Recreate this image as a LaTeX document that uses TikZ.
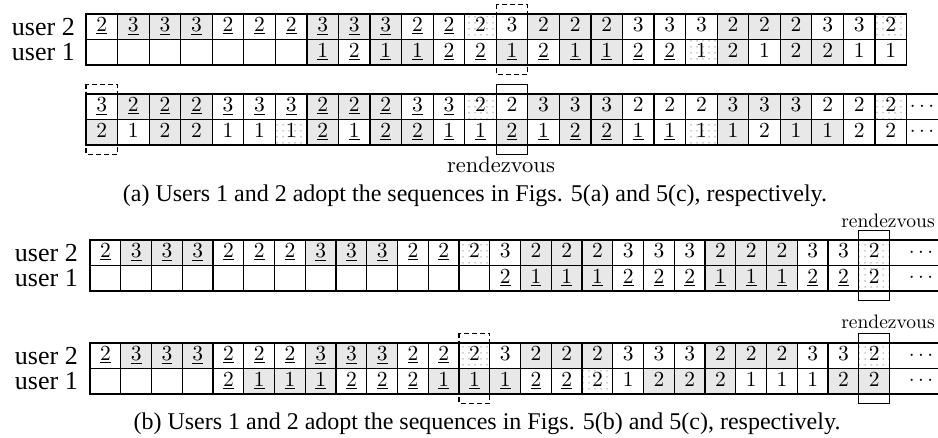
\documentclass[tikz,border=0pt]{standalone}
\usepackage{fontspec}
\newfontfamily\tnr{Liberation Serif}
\newfontfamily\lmten{lmroman10-regular.otf}
\usetikzlibrary{patterns.meta}
\newcommand\cfuw[1]{\underline{#1}}
\newcommand\cfug[1]{\underline{#1}}
\newcommand\cfw[1]{#1}
\newcommand\cfg[1]{#1}
\newcommand\cfd[1]{#1}
\newcommand\cfe[1]{}
% #1 name prefix, #2 x0, #3 y0 (top), #4 cell width, #5 list value/style
\newcommand\seqrow[5]{%
  \foreach \v/\s [count=\i] in {#5} {%
    \node[cell, cellstyle/.expanded=\s, minimum width=#4pt] (#1-\i) at ({#2+(\i-1)*#4}, #3) {\csname cf\s\endcsname{\v}};
  }%
}
\begin{document}
\begin{tikzpicture}[x=1pt, y=-1pt,
  cellline/.style={line width=1.2pt},
  cell/.style={draw, cellline, inner sep=0pt, outer sep=0pt, anchor=north west,
    minimum height=25.5pt, text height=14.5pt, text depth=4pt,
    font=\lmten\fontsize{21.5}{26}\selectfont},
  cellstyle/.style={cs#1},
  csuw/.style={fill=white},
  csw/.style={fill=white},
  csug/.style={fill=black!9},
  csg/.style={fill=black!9},
  cse/.style={fill=white},
  csd/.style={pattern={Dots[distance=6pt, radius=0.75pt, xshift=1pt, yshift=1pt]}, pattern color=black!40},
  lab/.style={font=\tnr\fontsize{26}{30}\selectfont, inner sep=0pt, anchor=east},
  captext/.style={font=\tnr\fontsize{24}{28}\selectfont, inner sep=0pt, anchor=base},
  rdv/.style={font=\lmten\fontsize{19.5}{24}\selectfont, inner sep=0pt, anchor=base},
  rdvbig/.style={font=\lmten\fontsize{22.5}{26}\selectfont, inner sep=0pt, anchor=base},
  dotcell/.style={inner sep=0pt, font=\fontsize{22}{26}\selectfont},
  markbox/.style={cellline},
  dashbox/.style={cellline, dash pattern=on 5pt off 3pt}
]
\useasboundingbox (0,0) rectangle (938,438);
\coordinate (R) at (938,0);

% ---------- (a) first table ----------
\seqrow{Aa}{86}{14}{31.56}{2/uw,3/ug,3/ug,3/ug,2/uw,2/uw,2/uw,3/ug,3/ug,3/ug,2/uw,2/uw,2/d,3/w,2/g,2/g,2/g,3/w,3/w,3/w,2/g,2/g,2/g,3/w,3/w,2/d}
\seqrow{Ab}{86}{39.5}{31.56}{x/e,x/e,x/e,x/e,x/e,x/e,x/e,1/ug,2/uw,1/ug,1/ug,2/uw,2/uw,1/ug,2/uw,1/ug,1/ug,2/uw,2/uw,1/d,2/g,1/w,2/g,2/g,1/w,1/w}
\node[lab] (LAa) at (75,26.75) {user 2};
\node[lab] (LAb) at (75,52.25) {user 1};
\draw[dashbox] ([yshift=9.5pt]Aa-14.north west) rectangle ([yshift=-9.5pt]Ab-14.south east);

% ---------- (a) second table ----------
\seqrow{Ba}{86}{94}{31.56}{3/uw,2/ug,2/ug,2/ug,3/uw,3/uw,3/uw,2/ug,2/ug,2/ug,3/uw,3/uw,2/d,2/w,3/g,3/g,3/g,2/w,2/w,2/w,3/g,3/g,3/g,2/w,2/w,2/d}
\seqrow{Bb}{86}{119.5}{31.56}{2/g,1/w,2/g,2/g,1/w,1/w,1/d,2/ug,1/uw,2/ug,2/ug,1/uw,1/uw,2/ug,1/uw,2/ug,2/ug,1/uw,1/uw,1/d,1/g,2/w,1/g,1/g,2/w,2/w}
\node[dotcell] (Ba-27) at (922,106.75) {$\cdots$};
\node[dotcell] (Bb-27) at (922,132.25) {$\cdots$};
\draw[cellline] (Ba-26.north east) -- (Ba-26.north east -| R);
\draw[cellline] (Ba-26.south east) -- (Ba-26.south east -| R);
\draw[cellline] (Bb-26.south east) -- (Bb-26.south east -| R);
\draw[dashbox] ([yshift=9.5pt]Ba-1.north west) rectangle ([yshift=-9.5pt]Bb-1.south east);
\draw[markbox] ([yshift=9.5pt]Ba-14.north west) rectangle ([yshift=-9.5pt]Bb-14.south east);
\node[rdvbig] (RA) at (501,173) {rendezvous};
\node[captext] (CA) at (475,202) {(a) Users 1 and 2 adopt the sequences in Figs. 5(a) and 5(c), respectively.};

% ---------- (b) first table ----------
\seqrow{Ca}{90}{240}{30.75}{2/uw,3/ug,3/ug,3/ug,2/uw,2/uw,2/uw,3/ug,3/ug,3/ug,2/uw,2/uw,2/d,3/w,2/g,2/g,2/g,3/w,3/w,3/w,2/g,2/g,2/g,3/w,3/w,2/d}
\seqrow{Cb}{90}{265.5}{30.75}{x/e,x/e,x/e,x/e,x/e,x/e,x/e,x/e,x/e,x/e,x/e,x/e,x/e,2/uw,1/ug,1/ug,1/ug,2/uw,2/uw,2/uw,1/ug,1/ug,1/ug,2/uw,2/uw,2/d}
\node[lab] (LCa) at (78,252.75) {user 2};
\node[lab] (LCb) at (78,278.25) {user 1};
\node[dotcell] (Ca-27) at (921,252.75) {$\cdots$};
\node[dotcell] (Cb-27) at (921,278.25) {$\cdots$};
\draw[cellline] (Ca-26.north east) -- (Ca-26.north east -| R);
\draw[cellline] (Ca-26.south east) -- (Ca-26.south east -| R);
\draw[cellline] (Cb-26.south east) -- (Cb-26.south east -| R);
\draw[markbox] ([yshift=9.5pt]Ca-26.north west) rectangle ([yshift=-9.5pt]Cb-26.south east);
\node[rdv] (RC) at (888,228) {rendezvous};

% ---------- (b) second table ----------
\seqrow{Da}{90}{343}{30.75}{2/uw,3/ug,3/ug,3/ug,2/uw,2/uw,2/uw,3/ug,3/ug,3/ug,2/uw,2/uw,2/d,3/w,2/g,2/g,2/g,3/w,3/w,3/w,2/g,2/g,2/g,3/w,3/w,2/d}
\seqrow{Db}{90}{368.5}{30.75}{x/e,x/e,x/e,x/e,2/uw,1/ug,1/ug,1/ug,2/uw,2/uw,2/uw,1/ug,1/ug,1/ug,2/uw,2/uw,2/d,1/w,2/g,2/g,2/g,1/w,1/w,1/w,2/g,2/g}
\node[lab] (LDa) at (78,355.75) {user 2};
\node[lab] (LDb) at (78,381.25) {user 1};
\node[dotcell] (Da-27) at (921,355.75) {$\cdots$};
\node[dotcell] (Db-27) at (921,381.25) {$\cdots$};
\draw[cellline] (Da-26.north east) -- (Da-26.north east -| R);
\draw[cellline] (Da-26.south east) -- (Da-26.south east -| R);
\draw[cellline] (Db-26.south east) -- (Db-26.south east -| R);
\draw[dashbox] ([yshift=9.5pt]Da-13.north west) rectangle ([yshift=-9.5pt]Db-13.south east);
\draw[markbox] ([yshift=9.5pt]Da-26.north west) rectangle ([yshift=-9.5pt]Db-26.south east);
\node[rdv] (RD) at (888,329) {rendezvous};
\node[captext] (CB) at (487,430) {(b) Users 1 and 2 adopt the sequences in Figs. 5(b) and 5(c), respectively.};
\end{tikzpicture}
\end{document}
